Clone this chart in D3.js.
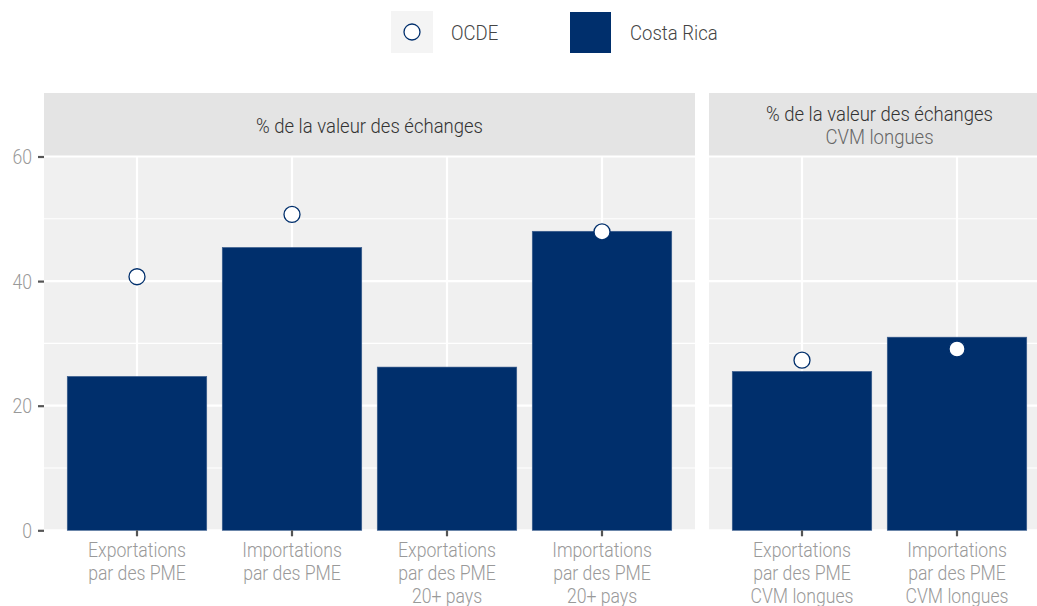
<!DOCTYPE html>
<html>
<head>
<meta charset="utf-8">
<script src="https://cdn.jsdelivr.net/npm/d3@7"></script>
<style>
  body { margin: 0; background: #fff; }
  svg { display: block; }
  text { font-family: Roboto, "Liberation Sans", sans-serif; font-weight: 300; }
</style>
</head>
<body>
<svg id="chart" width="1037" height="606"></svg>
<script>
// Panel 1: all trade values; panel 2: long GVC trade
const panel1Categories = ["Exportations\npar des PME", "Importations\npar des PME", "Exportations\npar des PME\n20+ pays", "Importations\npar des PME\n20+ pays"];
const panel1CostaRica = [24.7, 45.4, 26.2, 48.0];
const panel1OCDE = [40.7, 50.7, null, 47.9];

const panel2Categories = ["Exportations\npar des PME\nCVM longues", "Importations\npar des PME\nCVM longues"];
const panel2CostaRica = [25.5, 31.0];
const panel2OCDE = [27.3, 29.1];

const yTicks = [0, 20, 40, 60];
const yMinor = [10, 30, 50];

const stripTitle = "% de la valeur des échanges";
const stripSub2 = "CVM longues";
const legendLabels = ["OCDE", "Costa Rica"];

const NAVY = "#002f6c";
const PANEL_BG = "#f0f0f0";
const STRIP_BG = "#e4e4e4";
const FS = 20;

const svg = d3.select("#chart");

// condensed look: squeeze text horizontally so "Exportations" spans ~98px
const probe = svg.append("text").attr("font-size", FS).text("Exportations");
const SX = 98 / probe.node().getComputedTextLength();
probe.remove();

// text helper: anchor at (x, y) and compress horizontally
function label(parent, x, y, str, anchor, fill, weight, size) {
  return parent.append("text")
    .attr("transform", `translate(${x},${y}) scale(${SX},1)`)
    .attr("text-anchor", anchor).attr("font-size", size || FS)
    .attr("fill", fill).attr("font-weight", weight || 300).text(str);
}

const plotTop = 156.5, plotBottom = 530.3, stripTop = 93;
const y = d3.scaleLinear().domain([0, 60]).range([plotBottom, plotTop]);

const step = 651 / 4.2;
const panels = [
  { x0: 44, cats: panel1Categories, bars: panel1CostaRica, pts: panel1OCDE, sub: null },
  { x0: 709, cats: panel2Categories, bars: panel2CostaRica, pts: panel2OCDE, sub: stripSub2 }
];

panels.forEach((p, pi) => {
  const width = step * (p.cats.length + 0.2);
  const x = d3.scaleBand().domain(p.cats).range([p.x0, p.x0 + width])
    .paddingInner(0.1).paddingOuter(0.15);
  const g = svg.append("g");

  // strip
  g.append("rect").attr("x", p.x0).attr("y", stripTop).attr("width", width)
    .attr("height", plotTop - stripTop).attr("fill", STRIP_BG);
  const cx = p.x0 + width / 2;
  if (p.sub) {
    label(g, cx, 121, stripTitle, "middle", "#333", 400, 21);
    label(g, cx, 144, p.sub, "middle", "#666", 300, 21);
  } else {
    label(g, cx, 133, stripTitle, "middle", "#333", 400, 21);
  }

  // panel background
  g.append("rect").attr("x", p.x0).attr("y", plotTop).attr("width", width)
    .attr("height", plotBottom - plotTop).attr("fill", PANEL_BG);

  // gridlines
  g.selectAll(".minor").data(yMinor).join("line")
    .attr("x1", p.x0).attr("x2", p.x0 + width)
    .attr("y1", d => y(d)).attr("y2", d => y(d))
    .attr("stroke", "#fff").attr("stroke-width", 1.1);
  g.selectAll(".major").data(yTicks).join("line")
    .attr("x1", p.x0).attr("x2", p.x0 + width)
    .attr("y1", d => y(d)).attr("y2", d => y(d))
    .attr("stroke", "#fff").attr("stroke-width", 2.2);
  g.selectAll(".vgrid").data(p.cats).join("line")
    .attr("x1", d => x(d) + x.bandwidth() / 2).attr("x2", d => x(d) + x.bandwidth() / 2)
    .attr("y1", plotTop).attr("y2", plotBottom)
    .attr("stroke", "#fff").attr("stroke-width", 2.2);

  // bars
  g.selectAll(".bar").data(p.cats.map((c, i) => ({ c, v: p.bars[i] }))).join("rect")
    .attr("x", d => x(d.c)).attr("width", x.bandwidth())
    .attr("y", d => y(d.v)).attr("height", d => y(0) - y(d.v))
    .attr("fill", NAVY).attr("stroke", "#3d5f8f").attr("stroke-width", 0.6);

  // OCDE points
  g.selectAll(".pt").data(p.cats.map((c, i) => ({ c, v: p.pts[i] })).filter(d => d.v != null)).join("circle")
    .attr("cx", d => x(d.c) + x.bandwidth() / 2).attr("cy", d => y(d.v)).attr("r", 8)
    .attr("fill", "#fff").attr("stroke", NAVY).attr("stroke-width", 1.3);

  // x axis
  const xa = g.append("g").attr("transform", `translate(0,${plotBottom})`)
    .call(d3.axisBottom(x).tickSize(6).tickFormat(""));
  xa.select(".domain").remove();
  xa.selectAll(".tick line").attr("stroke", "#555").attr("stroke-width", 2.2);
  xa.selectAll(".tick").each(function (d) {
    const tick = d3.select(this);
    d.split("\n").forEach((line, i) => {
      label(tick, 0, 27 + i * 22.7, line, "middle", "#999");
    });
  });

  // y axis only on first panel
  if (pi === 0) {
    const ya = g.append("g").attr("transform", `translate(${p.x0},0)`)
      .call(d3.axisLeft(y).tickValues(yTicks).tickSize(6).tickFormat(""));
    ya.select(".domain").remove();
    ya.selectAll(".tick line").attr("stroke", "#555").attr("stroke-width", 2.2);
    ya.selectAll(".tick").each(function (d) {
      label(d3.select(this), -12, 7, String(d), "end", "#999");
    });
  }
});

// legend
const lg = svg.append("g");
lg.append("rect").attr("x", 391).attr("y", 11).attr("width", 42).attr("height", 42).attr("fill", "#f4f4f4");
lg.append("circle").attr("cx", 412).attr("cy", 32).attr("r", 8)
  .attr("fill", "#fff").attr("stroke", NAVY).attr("stroke-width", 1.3);
label(lg, 451, 40, legendLabels[0], "start", "#444", 300, 21);
lg.append("rect").attr("x", 570).attr("y", 12).attr("width", 41).attr("height", 41).attr("fill", NAVY);
label(lg, 630, 40, legendLabels[1], "start", "#444", 300, 21);
</script>
</body>
</html>
